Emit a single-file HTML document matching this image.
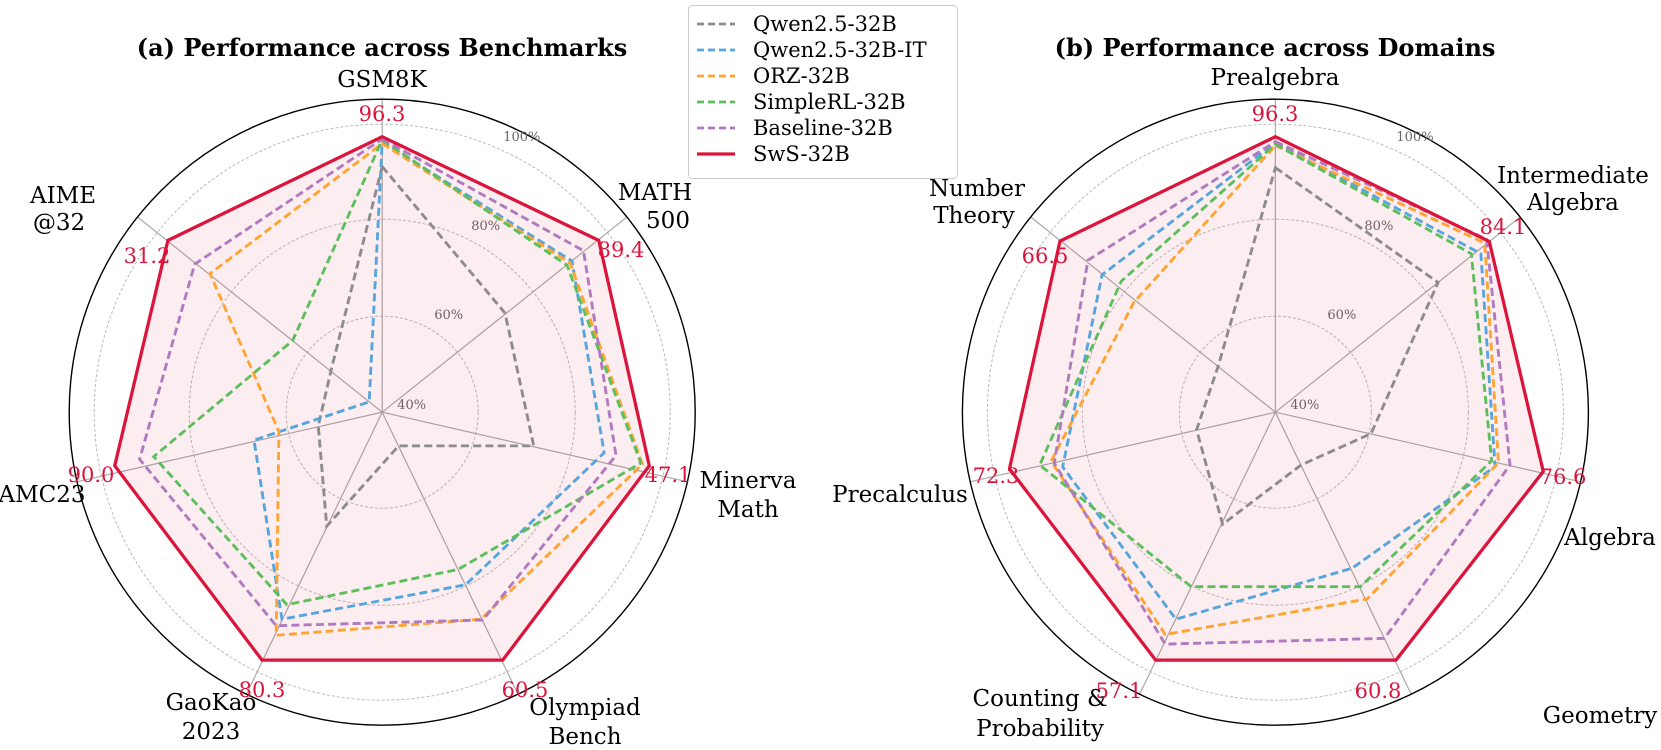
<!DOCTYPE html>
<html><head><meta charset="utf-8"><style>
html,body{margin:0;padding:0;background:#fff;}
svg{display:block;font-family:"DejaVu Serif","Liberation Serif",serif;}
</style></head><body>
<svg width="1661" height="750" viewBox="0 0 1661 750" xmlns="http://www.w3.org/2000/svg">
<defs>
<g id="grid">
  <circle cx="0" cy="0" r="96" fill="none" stroke="#bbb" stroke-width="1" stroke-dasharray="3,2"/>
  <circle cx="0" cy="0" r="193" fill="none" stroke="#bbb" stroke-width="1" stroke-dasharray="3,2"/>
  <circle cx="0" cy="0" r="288" fill="none" stroke="#bbb" stroke-width="1" stroke-dasharray="3,2"/>
  <g stroke="#aaa" stroke-width="1.2">
    <line x1="0" y1="0" x2="0" y2="-313"/>
    <line x1="0" y1="0" x2="244.7" y2="-195.2"/>
    <line x1="0" y1="0" x2="305.2" y2="69.6"/>
    <line x1="0" y1="0" x2="135.8" y2="282"/>
    <line x1="0" y1="0" x2="-135.8" y2="282"/>
    <line x1="0" y1="0" x2="-305.2" y2="69.6"/>
    <line x1="0" y1="0" x2="-244.7" y2="-195.2"/>
  </g>
  <circle cx="0" cy="0" r="313" fill="none" stroke="#000" stroke-width="1.4"/>
  <g font-size="13" fill="#666">
    <text x="15" y="-3">40%</text>
    <text x="52" y="-93">60%</text>
    <text x="89" y="-182">80%</text>
    <text x="121" y="-271">100%</text>
  </g>
</g>
</defs>

<g transform="translate(382.2,412.2)"><use href="#grid"/></g>
<g transform="translate(1275.4,412.2)"><use href="#grid"/></g>

<g transform="translate(60,90) scale(0.38266)" fill="none">
  <polygon points="842,122 1408,393 1540,982 1157,1490 528,1490 143,982 282,393" fill="#dc143c" fill-opacity="0.08" stroke="none"/>
  <g stroke-width="7.5" stroke-dasharray="21,11">
    <polygon stroke="#8c8c8c" points="842,200 1163,583 1238,930 885,930 697,1140 675,878 708,734"/>
    <polygon stroke="#56a5dc" points="842,135 1338,447 1422,948 1060,1293 580,1383 507,915 808,815"/>
    <polygon stroke="#ffa430" points="842,140 1333,452 1522,978 1100,1383 565,1425 572,893 392,480"/>
    <polygon stroke="#5cbf5c" points="842,130 1325,458 1518,975 1040,1253 593,1345 245,958 608,655"/>
    <polygon stroke="#b07ac0" points="842,128 1368,420 1453,955 1105,1385 565,1400 208,965 352,455"/>
  </g>
  <polygon stroke="#dc143c" stroke-width="8.5" points="842,122 1408,393 1540,982 1157,1490 528,1490 143,982 282,393"/>
</g>

<g transform="translate(905,90) scale(0.38266)" fill="none">
  <polygon points="968,122 1527,396 1668,997 1283,1490 655,1490 273,990 405,395" fill="#dc143c" fill-opacity="0.08" stroke="none"/>
  <g stroke-width="7.5" stroke-dasharray="21,11">
    <polygon stroke="#8c8c8c" points="968,203 1393,503 1218,898 1035,980 830,1135 762,888 818,723"/>
    <polygon stroke="#56a5dc" points="968,138 1505,428 1542,984 1168,1250 708,1383 412,985 515,483"/>
    <polygon stroke="#ffa430" points="968,145 1515,400 1551,974 1208,1330 680,1423 382,970 598,555"/>
    <polygon stroke="#5cbf5c" points="968,142 1480,428 1533,969 1190,1298 748,1298 352,980 565,500"/>
    <polygon stroke="#b07ac0" points="968,135 1520,390 1581,980 1253,1433 680,1448 390,975 478,445"/>
  </g>
  <polygon stroke="#dc143c" stroke-width="8.5" points="968,122 1527,396 1668,997 1283,1490 655,1490 273,990 405,395"/>
</g>

<g font-weight="bold" font-size="24" text-anchor="middle" fill="#000">
  <text x="382" y="56">(a) Performance across Benchmarks</text>
  <text x="1275" y="56">(b) Performance across Domains</text>
</g>

<g font-size="23" fill="#000" text-anchor="middle">
  <text x="382" y="87">GSM8K</text>
  <text x="655" y="200">MATH</text>
  <text x="668" y="228">500</text>
  <text x="748" y="488">Minerva</text>
  <text x="748" y="517">Math</text>
  <text x="585" y="715">Olympiad</text>
  <text x="585" y="744">Bench</text>
  <text x="211" y="710">GaoKao</text>
  <text x="211" y="739">2023</text>
  <text x="42" y="502">AMC23</text>
  <text x="63" y="203">AIME</text>
  <text x="59" y="230">@32</text>

  <text x="1275" y="85">Prealgebra</text>
  <text x="1573" y="183">Intermediate</text>
  <text x="1573" y="210">Algebra</text>
  <text x="1610" y="545">Algebra</text>
  <text x="1600" y="723">Geometry</text>
  <text x="1040" y="706">Counting &amp;</text>
  <text x="1040" y="736">Probability</text>
  <text x="900" y="502">Precalculus</text>
  <text x="977" y="196">Number</text>
  <text x="974" y="223">Theory</text>
</g>

<g font-size="21" fill="#dc143c" text-anchor="middle">
  <text x="382" y="121">96.3</text>
  <text x="621" y="257">89.4</text>
  <text x="668" y="482">47.1</text>
  <text x="525" y="697">60.5</text>
  <text x="262" y="697">80.3</text>
  <text x="91" y="482">90.0</text>
  <text x="147" y="263">31.2</text>

  <text x="1275" y="121">96.3</text>
  <text x="1503" y="234">84.1</text>
  <text x="1563" y="484">76.6</text>
  <text x="1378" y="698">60.8</text>
  <text x="1119" y="698">57.1</text>
  <text x="996" y="483">72.3</text>
  <text x="1045" y="263">66.5</text>
</g>

<rect x="688.5" y="5.5" width="269" height="173" rx="4" fill="#fff" fill-opacity="0.85" stroke="#ccc" stroke-width="1"/>
<g stroke-width="2.8" stroke-dasharray="7,4">
  <line x1="697" y1="24" x2="735" y2="24" stroke="#8c8c8c"/>
  <line x1="697" y1="50" x2="735" y2="50" stroke="#56a5dc"/>
  <line x1="697" y1="76" x2="735" y2="76" stroke="#ffa430"/>
  <line x1="697" y1="102" x2="735" y2="102" stroke="#5cbf5c"/>
  <line x1="697" y1="128" x2="735" y2="128" stroke="#b07ac0"/>
</g>
<line x1="697" y1="154" x2="735" y2="154" stroke="#dc143c" stroke-width="3.2"/>
<g font-size="21" fill="#000">
  <text x="753" y="31">Qwen2.5-32B</text>
  <text x="753" y="57">Qwen2.5-32B-IT</text>
  <text x="753" y="83">ORZ-32B</text>
  <text x="753" y="109">SimpleRL-32B</text>
  <text x="753" y="135">Baseline-32B</text>
  <text x="753" y="161">SwS-32B</text>
</g>
</svg>
</body></html>
